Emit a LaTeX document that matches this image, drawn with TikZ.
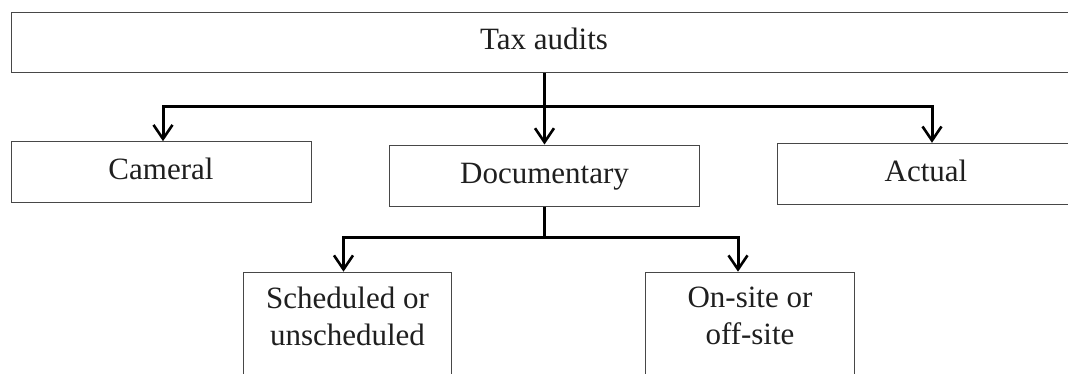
\documentclass[tikz,border=0pt]{standalone}
\usepackage{fontspec}
\setmainfont{Liberation Serif}
\usetikzlibrary{arrows.meta}
\begin{document}
\begin{tikzpicture}[x=1pt,y=-1pt,
  boxstyle/.style={draw=black!72, line width=1pt, fill=white, inner sep=0pt,
    text=black!88, font=\fontsize{31}{37}\selectfont},
  rowbox/.style={boxstyle, text height=21pt, text depth=6pt},
  lowbox/.style={boxstyle, anchor=north},
  lowtext/.style={anchor=north, inner sep=0pt, yshift=-15pt, align=center,
    text=black!88, font=\fontsize{31}{37}\selectfont},
  plainline/.style={line width=3pt, black},
  conn/.style={line width=3pt, black, -{Straight Barb[length=14pt,width=19pt,line width=2.6pt]}}]
\useasboundingbox (0,0) rectangle (1068,373);

\node[rowbox, minimum width=1066pt, minimum height=60.7pt] (top) at (544,42.35) {Tax audits};
\node[rowbox, minimum width=300pt, minimum height=60.3pt] (cam) at (161,171.85) {Cameral};
\node[rowbox, minimum width=309.7pt, minimum height=61pt] (doc) at (544.5,175.5) {Documentary};
\node[rowbox, minimum width=298pt, minimum height=60.7pt] (act) at (926,173.65) {Actual};

\node[lowbox, minimum width=208.4pt, minimum height=120pt,
  label={[lowtext]north:{Scheduled or\\unscheduled}}] (sch) at (347.5,271.7) {};
\node[lowbox, minimum width=208.6pt, minimum height=120pt,
  label={[lowtext]north:{On-site or\\off-site}}] (ons) at (750,271.7) {};

\coordinate (j1) at (544.5,106);
\coordinate (j2) at (544.5,237);

\draw[conn] (top.south -| doc.north) -- (doc.north);
\draw[conn] (j1) -| ([xshift=2pt]cam.north);
\draw[conn] (j1) -| ([xshift=6pt]act.north);

\draw[plainline] (doc.south) -- (j2);
\draw[conn] (j2) -| ([xshift=-4pt]sch.north);
\draw[conn] (j2) -| ([xshift=-12pt]ons.north);
\end{tikzpicture}
\end{document}
